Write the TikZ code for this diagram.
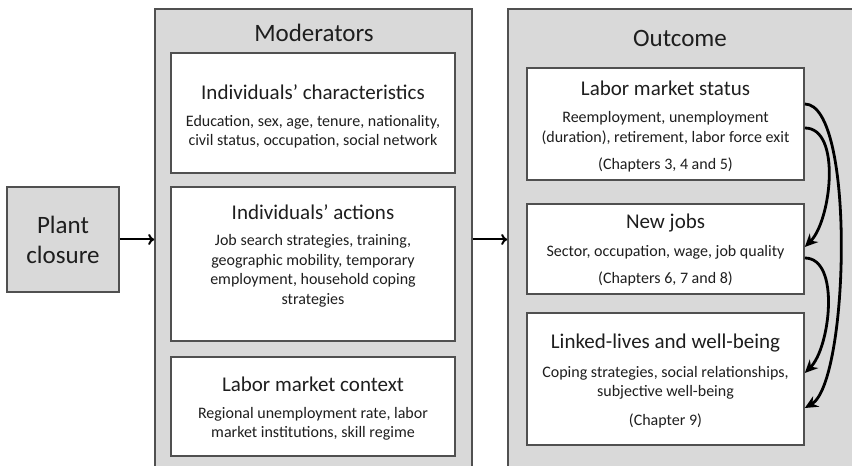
\documentclass[tikz,border=0pt]{standalone}
\usepackage{fontspec}
\setmainfont{Carlito}
\usepackage{tikz}
\usetikzlibrary{
    arrows.meta
}
\definecolor{panelgray}{RGB}{217,217,217}
\definecolor{edgegray}{RGB}{80,80,80}
\definecolor{inkgray}{RGB}{30,30,30}
\tikzset{
    panel/.style={draw=edgegray, line width=1.6pt, fill=panelgray},
    card/.style={draw=edgegray, line width=1.6pt, fill=white, minimum width=#1},
    heading/.style={text=inkgray, font=\fontsize{25}{30}\selectfont},
    cardtitle/.style={text=inkgray, font=\fontsize{21}{25}\selectfont},
    cardtext/.style={text=inkgray, align=center, font=\fontsize{16}{19.5}\selectfont},
    flow/.style={-{To[length=6pt,width=11pt]}, line width=2pt},
    link/.style={-{Stealth[length=13pt,width=12pt]}, line width=2.8pt}
}

\begin{document}
\begin{tikzpicture}[x=1pt,y=1pt]
        \useasboundingbox (0,0) rectangle (852,466);

        \draw (63,226.5) node[panel, heading, align=center, minimum width=112pt, minimum height=105pt](plant){Plant\\closure};
        \draw (313.5,218.5) node[panel, minimum width=317pt, minimum height=477pt](mod){};
        \draw (682,218.5) node[panel, minimum width=348pt, minimum height=477pt](out){};
        \draw (314,433) node[heading](modtitle){Moderators};
        \draw (680,428) node[heading](outtitle){Outcome};

        % moderators
        \draw (313,353) node[card=284pt, minimum height=120pt](chars){};
        \draw (313,374) node[cardtitle](charstitle){Individuals' characteristics};
        \draw (313,334.5) node[cardtext](charstext){Education, sex, age, tenure, nationality,\\civil status, occupation, social network};

        \draw (313,202) node[card=284pt, minimum height=154pt](acts){};
        \draw (313,254) node[cardtitle](actstitle){Individuals' actions};
        \draw (313,195) node[cardtext](actstext){Job search strategies, training,\\geographic mobility, temporary\\employment, household coping\\strategies};

        \draw (313,59.5) node[card=284pt, minimum height=99pt](context){};
        \draw (313,82) node[cardtitle](contexttitle){Labor market context};
        \draw (313,42) node[cardtext](contexttext){Regional unemployment rate, labor\\market institutions, skill regime};

        % outcome
        \draw (665.5,342) node[card=277pt, minimum height=112pt](status){};
        \draw (665.5,378) node[cardtitle](statustitle){Labor market status};
        \draw (665.5,338) node[cardtext](statustext){Reemployment, unemployment\\(duration), retirement, labor force exit};
        \draw (665.5,301) node[cardtext](statuschap){(Chapters 3, 4 and 5)};

        \draw (665.5,217) node[card=277pt, minimum height=90pt](jobs){};
        \draw (665.5,243) node[cardtitle](jobstitle){New jobs};
        \draw (665.5,214) node[cardtext](jobstext){Sector, occupation, wage, job quality};
        \draw (665.5,187) node[cardtext](jobschap){(Chapters 6, 7 and 8)};

        \draw (665.5,87) node[card=277pt, minimum height=132pt](linked){};
        \draw (665.5,123) node[cardtitle](linkedtitle){Linked-lives and well-being};
        \draw (665.5,83) node[cardtext](linkedtext){Coping strategies, social relationships,\\subjective well-being};
        \draw (665.5,45) node[cardtext](linkedchap){(Chapter 9)};

        \draw[flow] (plant.east) -- (plant.east -| mod.west);
        \draw[flow] (mod.east |- plant.east) -- (out.west |- plant.east);

        \draw[link] ([yshift=20pt]status.east) to[out=0, in=30, looseness=0.43] ([yshift=-29pt]linked.east);
        \draw[link] ([yshift=-4pt]status.east) to[out=0, in=45, looseness=0.8] ([yshift=2pt]jobs.east);
        \draw[link] ([yshift=-9pt]jobs.east) to[out=0, in=45, looseness=0.8] ([yshift=6pt]linked.east);
    \end{tikzpicture}
\end{document}
